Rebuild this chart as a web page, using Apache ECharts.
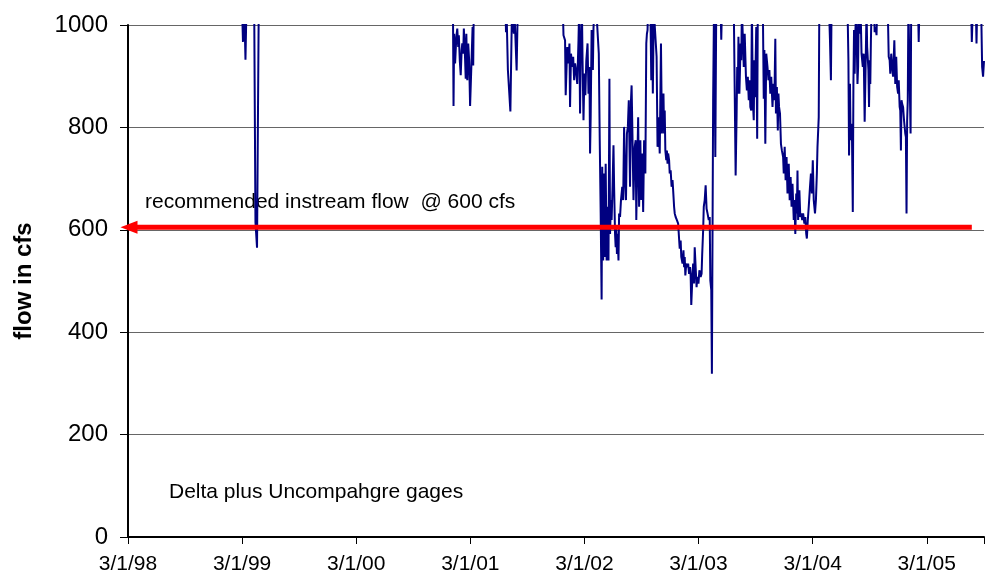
<!DOCTYPE html>
<html>
<head>
<meta charset="utf-8">
<script src="https://cdn.jsdelivr.net/npm/echarts@6/dist/echarts.min.js"></script>
<style>
  html, body { margin: 0; padding: 0; background: #fff; }
</style>
</head>
<body>
<div id="chart" style="width: 987px; height: 580px"></div>
<script>
// x labels, one per year (each tick is 3/1 of that year)
const yearLabels = ["3/1/98", "3/1/99", "3/1/00", "3/1/01", "3/1/02", "3/1/03", "3/1/04", "3/1/05"];

// daily flow, Delta plus Uncompahgre gages
// day = days since 3/1/98, flow in cfs (values above 1000 run off the top of the chart)
const flowDays = [
  0, 30, 60, 90, 110, 130, 160, 200, 250, 300, 340,
  364, 368, 372, 376, 380, 396, 404, 408, 413, 419,
  440, 470, 495, 520, 560, 620, 700, 780, 830, 860, 890, 930, 980, 1020,
  1040, 1042, 1044, 1047, 1051, 1054, 1057, 1059, 1062, 1065, 1068, 1070, 1073, 1075, 1078, 1081, 1083, 1086, 1089, 1092, 1095, 1099, 1101, 1103, 1105, 1107,
  1115, 1140, 1170, 1195,
  1208, 1210, 1212, 1216, 1224, 1229, 1235, 1238, 1244, 1248,
  1260, 1290, 1330, 1370,
  1391, 1394, 1399, 1401, 1406, 1410, 1413, 1415, 1418, 1422, 1425, 1428, 1431, 1434, 1438, 1442, 1444, 1447, 1449, 1453, 1455, 1458, 1461, 1464, 1467, 1471, 1474, 1477, 1479, 1481, 1484, 1488, 1490, 1493, 1499, 1504,
  1507, 1510, 1513, 1516, 1518, 1521, 1524, 1526, 1529, 1532, 1535, 1538, 1541, 1543, 1546, 1548, 1551, 1554, 1556, 1559, 1561, 1563, 1565, 1567, 1570, 1572, 1575, 1578,
  1582, 1585, 1588, 1591, 1594, 1597, 1600, 1603, 1607, 1610, 1612, 1615, 1618, 1622, 1625, 1627, 1630, 1633, 1636, 1640, 1643, 1646, 1649, 1652, 1656, 1659, 1661, 1663, 1665, 1672, 1675, 1677, 1680, 1683, 1687,
  1692, 1695, 1697, 1700, 1702, 1706, 1709, 1712, 1714, 1716, 1718, 1720, 1723, 1725, 1727, 1729, 1732, 1734, 1737, 1740, 1743, 1745, 1748, 1750, 1753, 1757, 1761,
  1763, 1766, 1769, 1771, 1775, 1778, 1780, 1782, 1784, 1787, 1791, 1793, 1796, 1799, 1801, 1803, 1807, 1809, 1812, 1814, 1817, 1820, 1822, 1826, 1829, 1833, 1836, 1838, 1841, 1843, 1846, 1849, 1852, 1855, 1859, 1862, 1864, 1867, 1869, 1871, 1873, 1876,
  1880, 1883, 1888, 1897, 1899, 1901, 1915, 1928,
  1939, 1945, 1948, 1950, 1952, 1954, 1957, 1961, 1963, 1965, 1968, 1971, 1974, 1978, 1981, 1984, 1987, 1990, 1992, 1995, 1997, 2000, 2003, 2005, 2007, 2011, 2014, 2016, 2024,
  2032, 2035, 2037, 2040, 2043, 2047, 2050, 2053, 2056, 2059, 2063, 2066, 2069, 2072, 2074, 2077, 2080, 2082, 2084, 2087, 2090, 2093, 2097, 2099, 2102, 2105, 2108, 2111, 2115, 2118, 2121, 2124, 2127, 2131, 2133, 2136, 2139, 2141, 2143, 2145, 2149, 2152, 2155, 2158, 2161, 2165, 2168, 2171, 2173, 2176, 2179, 2183, 2186, 2189, 2192, 2195, 2199, 2202, 2205, 2207, 2209, 2211, 2213,
  2225, 2235, 2244, 2247, 2250, 2252, 2265, 2285,
  2303, 2306, 2308, 2311, 2313, 2317, 2320, 2322, 2324, 2326, 2328, 2331, 2335, 2337, 2339, 2342, 2345, 2348, 2352, 2355, 2358, 2361, 2364, 2366, 2370, 2372, 2374, 2376, 2378, 2380, 2388, 2390, 2393, 2396, 2398,
  2410, 2422,
  2432, 2435, 2438, 2440, 2443, 2446, 2449, 2453, 2456, 2459, 2462, 2465, 2467, 2470, 2472, 2474, 2476, 2478, 2481, 2484, 2488, 2490, 2492, 2494, 2496, 2498, 2501, 2505, 2507,
  2518, 2529, 2531, 2533, 2550, 2590, 2620, 2650, 2680,
  2699, 2701, 2704, 2714, 2716, 2718, 2731, 2734, 2737, 2740
];
const flowCfs = [
  1250, 1400, 2200, 4200, 5200, 4800, 3000, 1800, 1400, 1250, 1150,
  1060, 967, 1040, 932, 1060, 1100, 1030, 615, 565, 1080,
  1500, 3000, 5000, 4200, 2400, 1500, 1300, 1250, 1800, 3200, 2800, 1700, 1300, 1150,
  1050, 842, 983, 925, 977, 993, 957, 980, 931, 902, 951, 964, 944, 993, 951, 895, 983, 892, 964, 931, 842, 918, 921, 996, 921, 1050,
  1150, 1500, 1400, 1150,
  1040, 986, 1020, 912, 831, 1030, 983, 1010, 911, 1050,
  1150, 1300, 1250, 1100,
  1050, 980, 970, 863, 957, 925, 964, 840, 944, 918, 938, 892, 925, 912, 885, 970, 1030, 827, 944, 1030, 931, 814, 905, 863, 931, 964, 866, 918, 749, 820, 990, 912, 993, 1040, 1030, 1030,
  944, 775, 632, 464, 723, 540, 710, 547, 729, 540, 645, 540, 895, 592, 658, 619, 684, 765, 684, 592, 566, 606, 553, 592, 540, 632, 625, 658,
  684, 658, 801, 697, 658, 788, 801, 853, 684, 853, 882, 775, 658, 762, 775, 619, 723, 820, 645, 775, 658, 749, 635, 775, 710, 964, 983, 990, 1040, 1040, 892, 1030, 866, 1030, 1030,
  938, 762, 820, 788, 749, 964, 788, 853, 866, 788, 833, 755, 736, 755, 729, 749, 736, 710, 716, 684, 697, 677, 645, 632, 625, 619, 612,
  592, 563, 579, 547, 534, 560, 527, 547, 511, 534, 527, 534, 514, 527, 511, 453, 514, 534, 495, 566, 527, 488, 508, 495, 521, 508, 514, 553, 599, 645, 658, 687, 641, 632, 619, 625, 501, 482, 319, 592, 853, 1050,
  742, 1040, 1150, 1030, 971, 1030, 1200, 1100,
  1040, 706, 820, 918, 866, 977, 866, 964, 931, 1030, 977, 918, 983, 899, 872, 899, 853, 892, 840, 833, 1040, 853, 814, 931, 859, 996, 778, 1040, 1100,
  1040, 856, 951, 768, 944, 918, 892, 912, 866, 899, 840, 885, 853, 973, 827, 879, 794, 866, 840, 827, 768, 755, 742, 710, 762, 697, 742, 671, 729, 658, 703, 645, 690, 619, 658, 592, 671, 632, 716, 619, 677, 625, 632, 619, 632, 612, 625, 592, 583, 619, 645, 684, 710, 671, 736, 658, 632, 658, 710, 762, 765, 820, 1050,
  1200, 1150, 1030, 970, 892, 1030, 1300, 1200,
  1040, 931, 745, 885, 775, 807, 635, 885, 990, 905, 983, 1030, 885, 918, 1030, 983, 1030, 944, 918, 944, 811, 918, 1030, 957, 912, 840, 931, 885, 970, 1030, 1030, 986, 996, 980, 1040,
  1150, 1100,
  1030, 938, 931, 905, 944, 918, 899, 970, 885, 938, 879, 866, 892, 840, 833, 755, 853, 846, 840, 814, 788, 781, 632, 814, 853, 1040, 1040, 788, 1040,
  1100, 1030, 967, 1030, 1200, 1800, 4000, 3000, 1500,
  1030, 967, 1030, 1030, 964, 1030, 1030, 918, 899, 930
];

// recommended instream flow arrow (as drawn, just above the 600 line)
const instreamFlow = 605;
const arrowTipDay = -24;
const arrowEndDay = 2701;

const DAYS_PER_YEAR = 365.25;
const flowData = flowDays.map((d, i) => [d, flowCfs[i]]);

// arrow head is a left-pointing triangle; its centre sits half a head-length right of the tip
const HEAD_LEN = 17;
const arrowData = [
  {
    value: [arrowTipDay + (HEAD_LEN / 2) * (2740 / 859), instreamFlow],
    symbol: "triangle",
    symbolSize: [13, HEAD_LEN],
    symbolRotate: 90,
  },
  { value: [arrowEndDay, instreamFlow], symbol: "none" },
];

const myChart = echarts.init(document.getElementById("chart"));
const option = {
  animation: false,
  grid: {
    left: 128,
    right: 0,
    top: 25,
    bottom: 43,
  },
  xAxis: {
    type: "value",
    min: 0,
    max: 2740,
    interval: DAYS_PER_YEAR,
    splitLine: { show: false },
    axisLine: { lineStyle: { color: "#000", width: 2 } },
    axisTick: { length: 7, lineStyle: { color: "#000" } },
    axisLabel: {
      margin: 17,
      fontFamily: "Liberation Sans",
      fontSize: 21,
      color: "#000",
      formatter: function (v) {
        const k = Math.round(v / DAYS_PER_YEAR);
        if (Math.abs(v - k * DAYS_PER_YEAR) > 1) return "";
        return yearLabels[k] || "";
      },
    },
  },
  yAxis: {
    type: "value",
    min: 0,
    max: 1000,
    interval: 200,
    name: "flow in cfs",
    nameLocation: "middle",
    nameGap: 92,
    nameTextStyle: {
      fontFamily: "Liberation Sans",
      fontSize: 24,
      fontWeight: "bold",
      color: "#000",
    },
    axisLine: { show: true, lineStyle: { color: "#000", width: 2 } },
    axisTick: { show: true, length: 8, lineStyle: { color: "#000" } },
    splitLine: { lineStyle: { color: "#666", width: 1 } },
    axisLabel: {
      margin: 20,
      fontFamily: "Liberation Sans",
      fontSize: 24,
      color: "#000",
      formatter: function (v) {
        return String(v);
      },
    },
  },
  graphic: [
    {
      type: "text",
      left: 145,
      top: 192,
      style: {
        text: "recommended instream flow  @ 600 cfs",
        fontFamily: "Liberation Sans",
        fontSize: 21,
        fill: "#000",
      },
    },
    {
      type: "text",
      left: 169,
      top: 482,
      style: {
        text: "Delta plus Uncompahgre gages",
        fontFamily: "Liberation Sans",
        fontSize: 21,
        fill: "#000",
      },
    },
  ],
  series: [
    {
      name: "flow",
      type: "line",
      data: flowData,
      showSymbol: false,
      symbol: "none",
      clip: true,
      lineStyle: { color: "#000080", width: 2 },
      z: 2,
    },
    {
      // red arrow for the instream flow level
      name: "instream",
      type: "line",
      data: arrowData,
      showSymbol: true,
      clip: false,
      silent: true,
      lineStyle: { color: "#ff0000", width: 5 },
      itemStyle: { color: "#ff0000", borderWidth: 0 },
      z: 3,
    },
  ],
};

myChart.setOption(option);
</script>
</body>
</html>
